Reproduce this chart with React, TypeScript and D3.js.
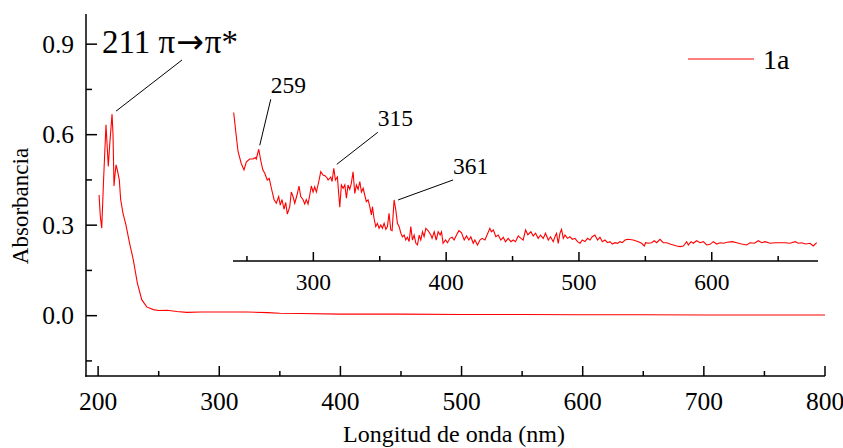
import React from "react";
import * as d3 from "d3";

// ---------- data ----------
const seriesName = "1a";
// main spectrum: wavelength (nm), absorbance
const mainWl = [200.8, 201.8, 203, 204.5, 206.5, 207.5, 208.4, 209.8, 211.5, 212.3, 213.1, 214, 214.8, 215.8, 217.5, 218.6, 220.5, 223, 226, 229, 232.4, 236, 240.1, 245.6, 250, 257, 265, 273, 285, 298, 310, 323, 340, 350, 367, 400, 450, 500, 550, 600, 650, 700, 750, 800];
const mainAbs = [0.40, 0.33, 0.29, 0.45, 0.633, 0.56, 0.495, 0.58, 0.668, 0.6, 0.43, 0.47, 0.50, 0.484, 0.45, 0.385, 0.34, 0.30, 0.24, 0.186, 0.108, 0.053, 0.029, 0.02, 0.017, 0.018, 0.014, 0.011, 0.012, 0.012, 0.012, 0.012, 0.010, 0.008, 0.007, 0.005, 0.005, 0.004, 0.004, 0.003, 0.003, 0.002, 0.002, 0.002];

// inset: magnified spectrum, relative units
const insetWl = [240, 242, 243.3, 245.7, 247.8, 249.5, 252, 254.6, 256.3, 257, 258.9, 260.4, 261.9, 263.4, 265.3, 266.8, 268.4, 270.4, 272.1, 273.9, 275.1, 276.4, 277.9, 279.2, 280.4, 282.2, 283.4, 284.7, 286, 287.7, 289.2, 290.5, 292.2, 293.5, 294.7, 296, 297.3, 298.5, 299.8, 301, 302.3, 304.1, 305.6, 307.3, 309, 310.6, 311.1, 313.1, 314.1, 315.4, 316.6, 318.1, 319.9, 321.1, 322.4, 323.7, 324.9, 326.1, 327.4, 328.6, 329.9, 331.2, 332.4, 333.7, 335, 336.2, 337.5, 338.7, 339.9, 341.2, 342.5, 343.7, 344.5, 345.7, 347, 348.2, 349.5, 350.8, 352, 353.3, 354.6, 355.8, 357, 358.3, 359.3, 360.8, 362.1, 363.3, 364.6, 365.9, 367.1, 368.4, 369.6, 370.8, 372.1, 373.4, 374.6, 375.9, 377.2, 378.4, 379.7, 380.9, 382.2, 383.4, 384.7, 386.2, 388.5, 389.4, 391, 392.5, 394, 395.5, 396.5, 397.7, 399.5, 401, 402.8, 404.5, 406, 407.8, 409.6, 411.5, 413.6, 415.3, 417.1, 418.6, 420.4, 421.6, 423.6, 425.4, 427.1, 429.2, 431.1, 432.9, 434.1, 435.6, 437.4, 439.2, 441.2, 443, 444.7, 446.7, 448.8, 450.5, 452.2, 454.3, 456.3, 458, 459.8, 461.5, 463.8, 465.6, 467.3, 469.3, 471.1, 473.1, 474.8, 476.9, 478.6, 480.6, 481.9, 483.1, 484.4, 485.7, 486.9, 488.2, 489.5, 491.4, 493.2, 495, 497, 498.9, 500.8, 502.5, 504.5, 506.5, 508.3, 510, 512, 514, 515.8, 517.6, 519.6, 521.6, 523.4, 525.1, 527.1, 529.1, 530.9, 532.6, 534.7, 536.8, 540.9, 544.7, 547.2, 549.2, 550.2, 552.2, 554.7, 556.7, 558.5, 561, 563.5, 566, 568.6, 571.1, 573.6, 576.1, 578.6, 581.1, 582.4, 584.4, 586.1, 588.6, 591.2, 593.7, 596.2, 598.7, 601.2, 603.7, 606.3, 608.8, 611.5, 615.5, 618.8, 622.5, 626.3, 628.8, 632.1, 635.1, 637.6, 640.2, 643.9, 647.7, 651.5, 655.2, 659, 662.8, 665.2, 667.7, 670.7, 674, 676.5, 679];
const insetVal = [0.99, 0.83, 0.73, 0.65, 0.607, 0.66, 0.68, 0.68, 0.69, 0.68, 0.745, 0.67, 0.61, 0.585, 0.54, 0.55, 0.485, 0.41, 0.385, 0.43, 0.373, 0.41, 0.345, 0.39, 0.313, 0.36, 0.46, 0.43, 0.385, 0.44, 0.5, 0.43, 0.41, 0.38, 0.41, 0.38, 0.44, 0.5, 0.46, 0.495, 0.46, 0.53, 0.595, 0.573, 0.567, 0.55, 0.54, 0.56, 0.53, 0.618, 0.54, 0.56, 0.358, 0.507, 0.485, 0.507, 0.418, 0.507, 0.478, 0.518, 0.595, 0.45, 0.507, 0.478, 0.53, 0.46, 0.485, 0.44, 0.395, 0.407, 0.362, 0.307, 0.362, 0.285, 0.229, 0.251, 0.218, 0.24, 0.218, 0.251, 0.211, 0.229, 0.318, 0.207, 0.202, 0.407, 0.34, 0.251, 0.229, 0.185, 0.162, 0.173, 0.14, 0.158, 0.129, 0.229, 0.14, 0.173, 0.118, 0.107, 0.173, 0.14, 0.195, 0.162, 0.218, 0.205, 0.173, 0.151, 0.195, 0.14, 0.195, 0.173, 0.195, 0.118, 0.14, 0.122, 0.151, 0.158, 0.14, 0.173, 0.202, 0.189, 0.14, 0.167, 0.14, 0.162, 0.118, 0.14, 0.107, 0.14, 0.151, 0.14, 0.18, 0.218, 0.195, 0.207, 0.162, 0.173, 0.14, 0.158, 0.129, 0.151, 0.129, 0.14, 0.129, 0.167, 0.151, 0.14, 0.207, 0.175, 0.195, 0.167, 0.185, 0.151, 0.173, 0.151, 0.185, 0.14, 0.162, 0.129, 0.162, 0.185, 0.118, 0.185, 0.211, 0.151, 0.173, 0.151, 0.162, 0.145, 0.151, 0.129, 0.118, 0.14, 0.129, 0.151, 0.14, 0.162, 0.173, 0.14, 0.158, 0.129, 0.14, 0.122, 0.129, 0.113, 0.122, 0.118, 0.129, 0.122, 0.14, 0.145, 0.14, 0.129, 0.118, 0.1, 0.122, 0.118, 0.122, 0.135, 0.122, 0.145, 0.122, 0.122, 0.113, 0.107, 0.1, 0.096, 0.1, 0.129, 0.107, 0.129, 0.118, 0.135, 0.122, 0.129, 0.107, 0.111, 0.129, 0.113, 0.122, 0.118, 0.125, 0.129, 0.122, 0.113, 0.107, 0.122, 0.118, 0.135, 0.122, 0.129, 0.118, 0.122, 0.122, 0.122, 0.118, 0.129, 0.118, 0.122, 0.113, 0.118, 0.1, 0.122];

// ticks
const mainXTicks = [200, 300, 400, 500, 600, 700, 800];
const mainXMinor = [250, 350, 450, 550, 650, 750];
const mainYTicks = [0.0, 0.3, 0.6, 0.9];
const mainYMinor = [-0.15, 0.15, 0.45, 0.75];
const insetXTicks = [300, 400, 500, 600];
const insetXMinor = [250, 350, 450, 550, 650];

// peak annotations
const mainPeakWl = 211.5;
const mainPeakAbs = 0.668;
const mainPeakParts = ["211 π", "→", "π*"];
const insetPeakWl = [258.9, 315.4, 360.8];
const insetPeakVal = [0.745, 0.618, 0.407];
const insetPeakLabels = ["259", "315", "361"];

const xTitle = "Longitud de onda (nm)";
const yTitle = "Absorbancia";

const FONT = "Liberation Serif, Times New Roman, Times, DejaVu Serif, serif";
const RED = "#ff0000";
const T: React.CSSProperties = { fontFamily: FONT };

export default function App() {
  const W = 843, H = 448;
  const x = d3.scaleLinear().domain([190, 800]).range([86, 825]);
  const y = d3.scaleLinear().domain([-0.2, 1.0]).range([376, 14]);
  const xi = d3.scaleLinear().domain([239.5, 680]).range([233, 818]);
  const yi = d3.scaleLinear().domain([0, 1]).range([261, 111]);

  const mainPts: [number, number][] = mainWl.map((w, i) => [w, mainAbs[i]]);
  const insetPts: [number, number][] = insetWl.map((w, i) => [w, insetVal[i]]);
  const lineMain = d3.line<[number, number]>().x(d => x(d[0])).y(d => y(d[1]));
  const lineInset = d3.line<[number, number]>().x(d => xi(d[0])).y(d => yi(d[1]));

  // label offsets (layout)
  const insetOffsets = [
    { dx: 12, dy: -50, ex: 1, ey: -4 },
    { dx: 44, dy: -36, ex: 3, ey: -4 },
    { dx: 59, dy: -20, ex: 4, ey: 0 },
  ];

  return (
    <svg width={W} height={H} style={{ position: "absolute", left: 0, top: 0, background: "#fff", fontFamily: FONT }}>
      <rect width={W} height={H} fill="#fff" />
      {/* main axes */}
      <line x1={86} x2={86} y1={y(1.0)} y2={y(-0.2) + 0.75} stroke="#000" strokeWidth={1.5} />
      <line x1={85.25} x2={x(800)} y1={376} y2={376} stroke="#000" strokeWidth={1.5} />
      {mainXTicks.map(t => (
        <g key={"mx" + t}>
          <line x1={x(t)} x2={x(t)} y1={376} y2={366} stroke="#000" strokeWidth={1.5} />
          <text style={T} x={x(t)} y={410} fontSize={25.5} textAnchor="middle">{t}</text>
        </g>
      ))}
      {mainXMinor.map(t => (
        <line key={"mxm" + t} x1={x(t)} x2={x(t)} y1={376} y2={371} stroke="#000" strokeWidth={1.5} />
      ))}
      {mainYTicks.map(t => (
        <g key={"my" + t}>
          <line x1={86} x2={97} y1={y(t)} y2={y(t)} stroke="#000" strokeWidth={1.5} />
          <text style={T} x={74} y={y(t) + 8.5} fontSize={25.5} textAnchor="end">{t.toFixed(1)}</text>
        </g>
      ))}
      {mainYMinor.map(t => (
        <line key={"mym" + t} x1={86} x2={92} y1={y(t)} y2={y(t)} stroke="#000" strokeWidth={1.5} />
      ))}
      <text style={T} x={454} y={442} fontSize={24} textAnchor="middle">{xTitle}</text>
      <text style={T} transform={`translate(28,${206}) rotate(-90)`} fontSize={23} textAnchor="middle">{yTitle}</text>

      {/* main curve */}
      <path d={lineMain(mainPts) || ""} fill="none" stroke={RED} strokeWidth={1.1} />

      {/* main annotation */}
      <line x1={x(mainPeakWl) + 4} y1={y(mainPeakAbs) - 3} x2={182} y2={60} stroke="#000" strokeWidth={1} />
      <text style={T} x={102} y={53} fontSize={33}>
        <tspan>{mainPeakParts[0]}</tspan>
        <tspan style={{ fontFamily: "DejaVu Sans, sans-serif" }} fontSize={33} dx={1}>{mainPeakParts[1]}</tspan>
        <tspan dx={1}>{mainPeakParts[2]}</tspan>
      </text>

      {/* legend */}
      <line x1={688} x2={754} y1={59} y2={59} stroke={RED} strokeWidth={1.2} />
      <text style={T} x={763} y={69} fontSize={28}>{seriesName}</text>

      {/* inset axis */}
      <line x1={xi(239.5)} x2={xi(680)} y1={261} y2={261} stroke="#000" strokeWidth={1.5} />
      {insetXTicks.map(t => (
        <g key={"ix" + t}>
          <line x1={xi(t)} x2={xi(t)} y1={261} y2={252} stroke="#000" strokeWidth={1.5} />
          <text style={T} x={xi(t)} y={290} fontSize={23.5} textAnchor="middle">{t}</text>
        </g>
      ))}
      {insetXMinor.map(t => (
        <line key={"ixm" + t} x1={xi(t)} x2={xi(t)} y1={261} y2={256} stroke="#000" strokeWidth={1.5} />
      ))}
      <path d={lineInset(insetPts) || ""} fill="none" stroke={RED} strokeWidth={1.1} />
      {insetPeakWl.map((w, i) => {
        const px = xi(w), py = yi(insetPeakVal[i]);
        const o = insetOffsets[i];
        return (
          <g key={"ip" + i}>
            <line x1={px + o.ex} y1={py + o.ey} x2={px + o.dx} y2={py + o.dy} stroke="#000" strokeWidth={1} />
            <text style={T} x={px + o.dx} y={py + o.dy - 6} fontSize={23.5}>{insetPeakLabels[i]}</text>
          </g>
        );
      })}
    </svg>
  );
}
